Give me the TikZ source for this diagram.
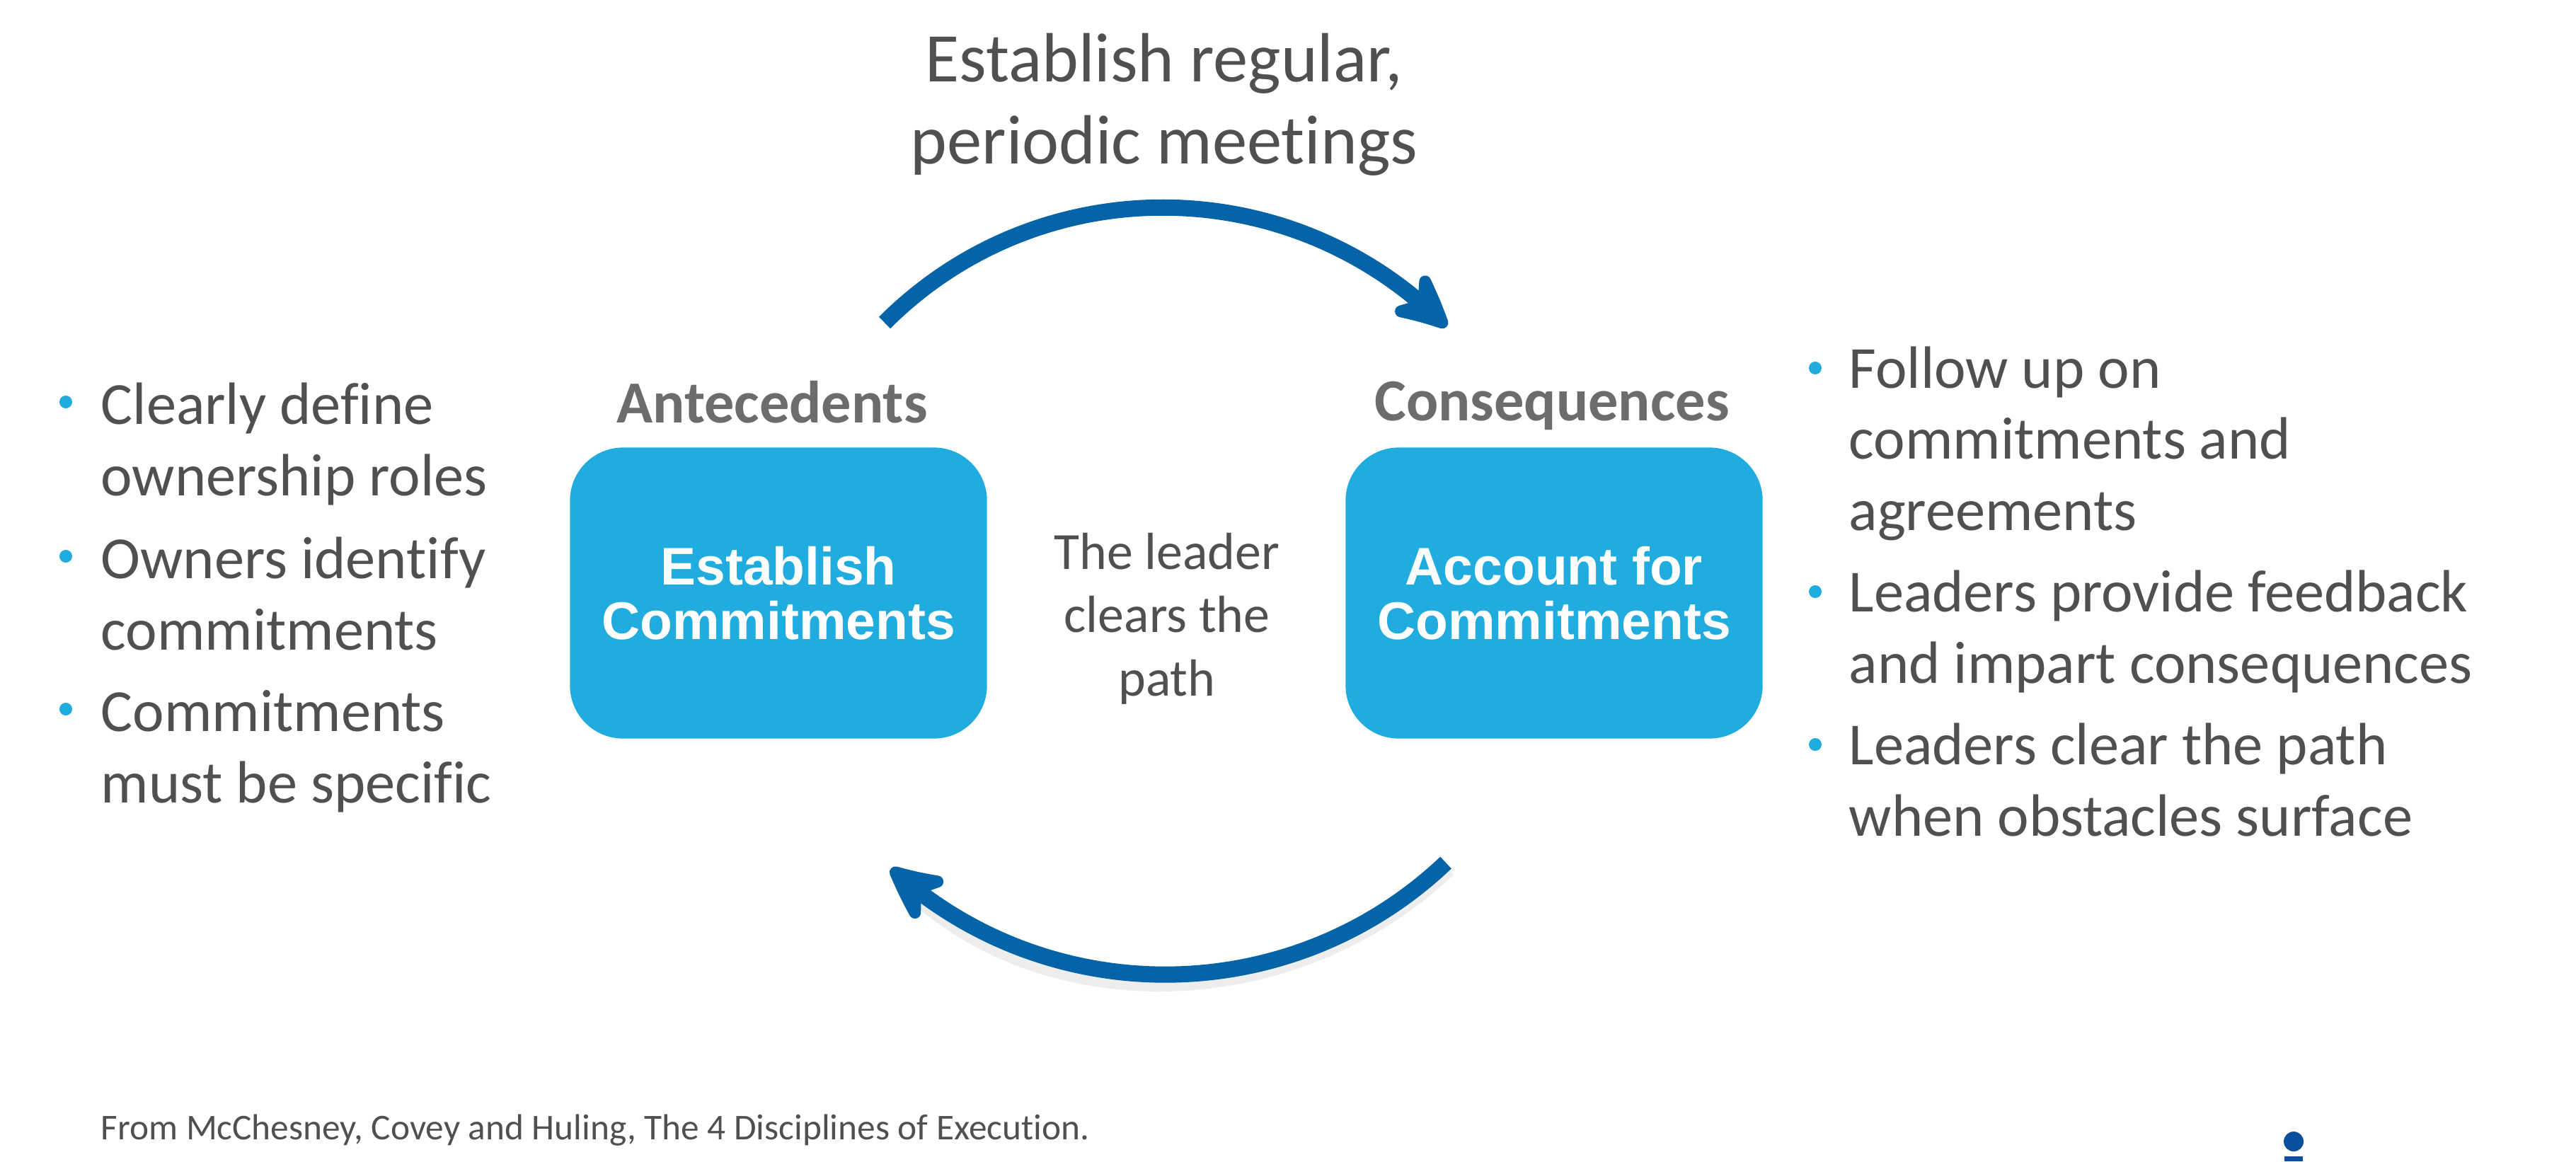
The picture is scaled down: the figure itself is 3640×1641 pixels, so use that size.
\documentclass[tikz,border=0pt]{standalone}
\usepackage{fontspec}
\setmainfont{Carlito}[Ligatures={NoCommon}]
\newfontfamily\boxfont{Liberation Sans}
\usetikzlibrary{arrows.meta,bending}
\definecolor{boxblue}{RGB}{33,172,224}
\definecolor{arrowblue}{RGB}{5,99,168}
\definecolor{txtgray}{RGB}{80,80,80}
\definecolor{headgray}{RGB}{108,108,108}
\definecolor{iconblue}{RGB}{10,79,155}
\tikzset{
  cbox/.style={fill=boxblue, rounded corners=0.75cm, minimum width=5.89cm, minimum height=4.11cm,
    align=center, text=white, inner sep=0pt, font=\boxfont\bfseries\fontsize{21.3}{22}\selectfont},
  head/.style={text=headgray, anchor=base, inner sep=0pt, font=\bfseries\fontsize{24}{28}\selectfont},
  item/.style={text=txtgray, anchor=base west, inner sep=0pt, align=left,
    font=\fontsize{24}{28.5}\selectfont},
  dotb/.style={circle, fill=boxblue, inner sep=0pt, minimum size=0.18cm},
  midtext/.style={text=txtgray, align=center, inner sep=0pt, font=\fontsize{21}{25.5}\selectfont},
  toptext/.style={text=txtgray, align=center, inner sep=0pt, font=\fontsize{28}{33}\selectfont},
  flow/.style={draw=arrowblue, line width=0.23cm,
    -{Stealth[length=1.0cm, width=0.95cm, inset=0.33cm, round, bend]}},
  shade/.style={draw=black, line width=0.24cm, opacity=0.07}
}
\begin{document}
\begin{tikzpicture}[x=0.01cm,y=-0.01cm]
\useasboundingbox (0,0) rectangle (3640,1641);

% boxes
\node[cbox] (est) at (1100,838) {Establish\\Commitments};
\node[cbox] (acc) at (2196,838) {Account for\\Commitments};

% headings
\node[head] (ant) at (1091,597) {Antecedents};
\node[head] (con) at (2193,594) {Consequences};

% top and middle texts
\node[toptext] (meet) at (1645,148) {Establish regular,\\periodic meetings};
\node[midtext] (lead) at (1649,874) {The leader\\clears the\\path};

% arrows
\coordinate (a1s) at (1250,456);
\coordinate (a1e) at (2044,462);
\coordinate (a1c1) at (1469,237);
\coordinate (a1c2) at (1825,239);
\coordinate (a2s) at (2043,1219);
\coordinate (a2e) at (1259,1227);
\coordinate (a2c1) at (1824,1427);
\coordinate (a2c2) at (1481,1430);
\begin{scope}[shift={(3,8)}]
\draw[shade] (2043,1219) .. controls (1824,1427) and (1481,1430) .. (1290,1255);
\end{scope}
\draw[flow] (a1s) .. controls (a1c1) and (a1c2) .. (a1e);
\draw[flow] (a2s) .. controls (a2c1) and (a2c2) .. (a2e);

% left bullets (node base = baseline of the last line)
\node[dotb] (lb1) at (93,568) {};
\node[item] (li1) at (142,700) {Clearly define\\ownership roles};
\node[dotb] (lb2) at (93,786) {};
\node[item] (li2) at (142,918) {Owners identify\\commitments};
\node[dotb] (lb3) at (93,1002) {};
\node[item] (li3) at (142,1134) {Commitments\\must be specific};

% right bullets
\node[dotb] (rb1) at (2565,520) {};
\node[item] (ri1) at (2612,749) {Follow up on\\commitments and\\agreements};
\node[dotb] (rb2) at (2565,836) {};
\node[item] (ri2) at (2612,965) {Leaders provide feedback\\and impart consequences};
\node[dotb] (rb3) at (2565,1052) {};
\node[item] (ri3) at (2612,1181) {Leaders clear the path\\when obstacles surface};

% footnote
\node[text=txtgray, anchor=base west, inner sep=0pt, font=\fontsize{14.6}{17}\selectfont] (src) at (142,1610)
  {From McChesney, Covey and Huling, The 4 Disciplines of Execution.};

% small logo mark
\fill[iconblue] (3241,1613) circle[radius=0.14cm];
\fill[iconblue] (3228,1634) rectangle (3254,1641);
\end{tikzpicture}
\end{document}
